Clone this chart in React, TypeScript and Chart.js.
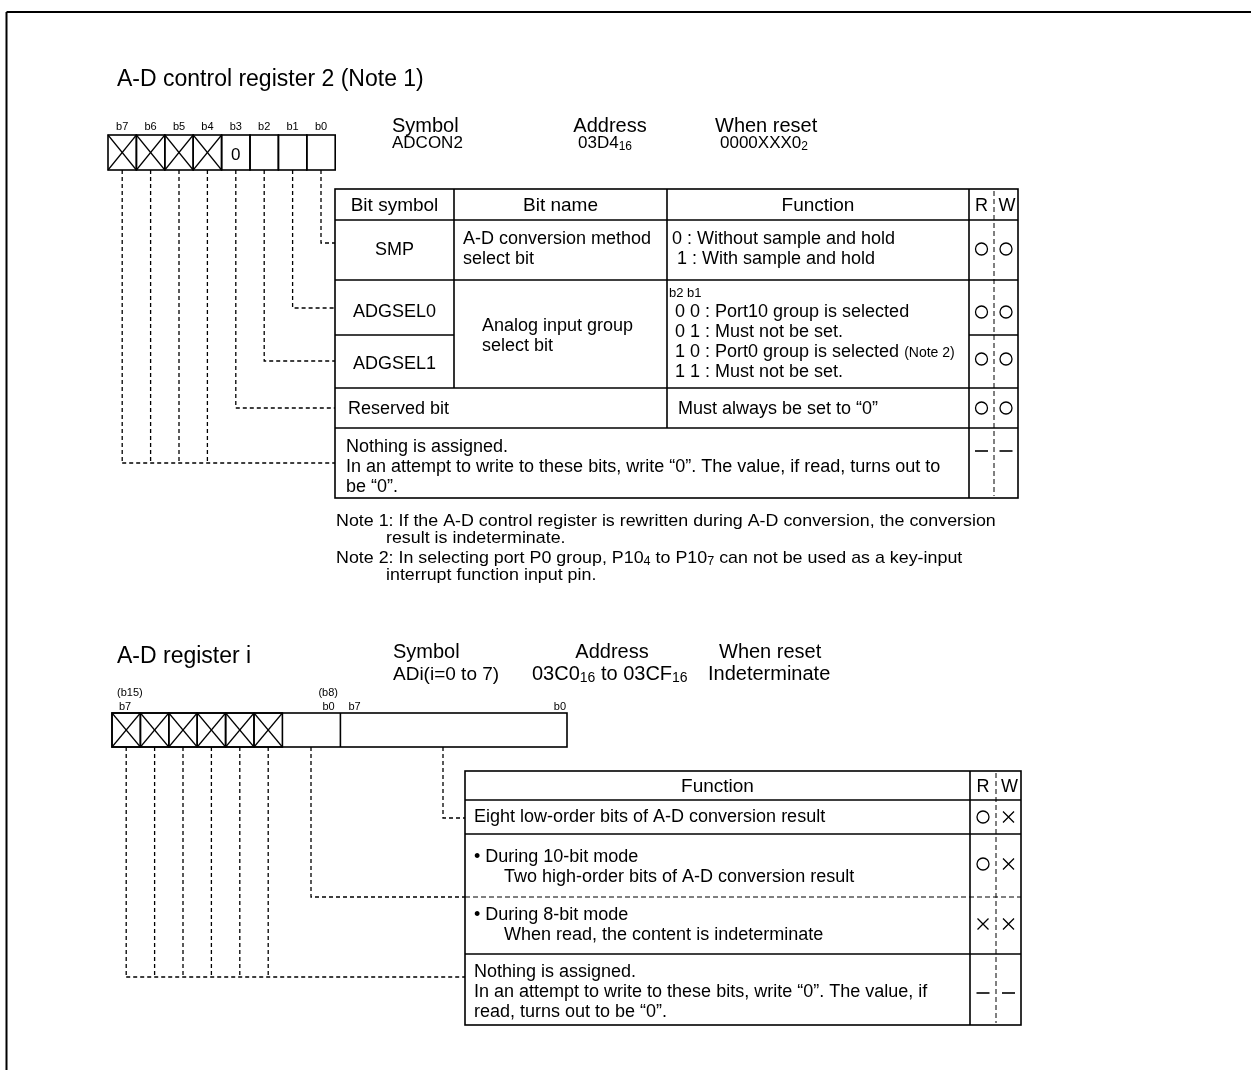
import React, { useEffect, useRef } from "react";
import { Chart, registerables } from "chart.js";

Chart.register(...registerables);

// ---------------- content (data) ----------------
const reg1Title = "A-D control register 2 (Note 1)";
const reg1BitLabels = ["b7", "b6", "b5", "b4", "b3", "b2", "b1", "b0"];
const reg1BitCells = ["x", "x", "x", "x", "0", "", "", ""];
const reg1InfoHeads = ["Symbol", "Address", "When reset"];
const reg1InfoValues = ["ADCON2", "03D4_{16}", "0000XXX0_{2}"];

const tbl1Head = ["Bit symbol", "Bit name", "Function", "R", "W"];
const tbl1Symbols = ["SMP", "ADGSEL0", "ADGSEL1"];
const tbl1NameSmp = ["A-D conversion method", "select bit"];
const tbl1NameSel = ["Analog input group", "select bit"];
const tbl1FuncSmp = ["0 : Without sample and hold", " 1 : With sample and hold"];
const tbl1FuncSelHead = "b2 b1";
const tbl1FuncSel = [
  " 0 0 : Port10 group is selected",
  " 0 1 : Must not be set.",
  " 1 0 : Port0 group is selected ~{(Note 2)}",
  " 1 1 : Must not be set.",
];
const tbl1Reserved = ["Reserved bit", "Must always be set to \u201C0\u201D"];
const tbl1Nothing = [
  "Nothing is assigned.",
  "In an attempt to write to these bits, write \u201C0\u201D. The value, if read, turns out to",
  "be \u201C0\u201D.",
];
const tbl1RW = [
  ["o", "o"],
  ["o", "o"],
  ["o", "o"],
  ["o", "o"],
  ["-", "-"],
];

const notesText = [
  "Note 1: If the A-D control register is rewritten during A-D conversion, the conversion",
  "result is indeterminate.",
  "Note 2: In selecting port P0 group, P10_{4} to P10_{7} can not be used as a key-input",
  "interrupt function input pin.",
];

const reg2Title = "A-D register i";
const reg2InfoHeads = ["Symbol", "Address", "When reset"];
const reg2InfoValues = ["ADi(i=0 to 7)", "03C0_{16} to 03CF_{16}", "Indeterminate"];
const reg2BitLabelsTop = ["(b15)", "(b8)"];
const reg2BitLabels = ["b7", "b0", "b7", "b0"];
const reg2Cells = ["x", "x", "x", "x", "x", "x"];

const tbl2Head = ["Function", "R", "W"];
const tbl2Rows = [
  ["Eight low-order bits of A-D conversion result"],
  ["\u2022 During 10-bit mode", "      Two high-order bits of A-D conversion result"],
  ["\u2022 During 8-bit mode", "      When read, the content is indeterminate"],
  [
    "Nothing is assigned.",
    "In an attempt to write to these bits, write \u201C0\u201D. The value, if",
    "read, turns out to be \u201C0\u201D.",
  ],
];
const tbl2RW = [
  ["o", "x"],
  ["o", "x"],
  ["x", "x"],
  ["-", "-"],
];

// ---------------- layout ----------------
const W = 1251;
const H = 1070;
const FONT = '"Liberation Sans", Arial, Helvetica, sans-serif';

const L = {
  frameX: 6.5,
  frameY: 12,
  title1: { x: 117, y: 78, size: 23 },
  box1: { x: 108, y: 135, cw: 28.4, h: 35, labelY: 126 },
  info1: { headY: 124.5, valY: 142, xs: [392, 610, 715], valXs: [392, 605, 720], aligns: ["left", "center", "left"], valAligns: ["left", "center", "left"] },
  t1: { cols: [335, 454, 667, 969, 994, 1018], rows: [189, 220, 280, 335, 388, 428, 498] },
  t1Leader: [243, 308, 361, 408, 463],
  notes: { x: [336, 386, 336, 386], y: [520, 537, 557, 574], size: 17, sx: 1.05 },
  title2: { x: 117, y: 655, size: 23 },
  info2: { headY: 651, valY: 673, xs: [393, 612, 719], valXs: [393, 532, 708], valSizes: [19, 20, 20], aligns: ["left", "center", "left"] },
  box2: { x: 112, y: 713, cw: 28.4, h: 34, right: 567, lowX: 340.4, topLabelY: 692, labelY: 706 },
  t2: { left: 465, rcol: 970, rw: 996, right: 1021, rows: [771, 800, 834, 897, 954, 1025] },
  t2LeaderX: { low: 443, hi: 311 },
  t2LeaderY: [818, 897, 977],
};

// ---------------- helpers ----------------
type Seg = { t: string; k: "n" | "sub" | "small" };
function parse(s: string): Seg[] {
  const out: Seg[] = [];
  const re = /(_\{([^}]*)\})|(~\{([^}]*)\})/g;
  let last = 0;
  let m: RegExpExecArray | null;
  while ((m = re.exec(s))) {
    if (m.index > last) out.push({ t: s.slice(last, m.index), k: "n" });
    if (m[1]) out.push({ t: m[2], k: "sub" });
    else out.push({ t: m[4], k: "small" });
    last = re.lastIndex;
  }
  if (last < s.length) out.push({ t: s.slice(last), k: "n" });
  return out;
}

function drawRich(
  ctx: CanvasRenderingContext2D,
  x: number,
  cy: number,
  s: string,
  size: number,
  align: string = "left",
  sx: number = 1
) {
  const parts = parse(s);
  const f = (k: string) => {
    const sz = k === "n" ? size : k === "sub" ? Math.round(size * 0.72) : Math.round(size * 0.78);
    return `${sz}px ${FONT}`;
  };
  let total = 0;
  for (const p of parts) {
    ctx.font = f(p.k);
    total += ctx.measureText(p.t).width;
  }
  let cx = align === "center" ? x - (total * sx) / 2 : align === "right" ? x - total * sx : x;
  const base = cy + size * 0.36;
  ctx.save();
  ctx.textAlign = "left";
  ctx.textBaseline = "alphabetic";
  ctx.fillStyle = "#000";
  for (const p of parts) {
    ctx.font = f(p.k);
    const w = ctx.measureText(p.t).width;
    ctx.save();
    ctx.translate(cx, base + (p.k === "sub" ? size * 0.1 : 0));
    ctx.scale(sx, 1);
    ctx.fillText(p.t, 0, 0);
    ctx.restore();
    cx += w * sx;
  }
  ctx.restore();
}

function makePlugin() {
  return {
    id: "registerDiagram",
    afterDraw(chart: any) {
      const ctx: CanvasRenderingContext2D = chart.ctx;
      const xs = chart.scales.x;
      const ys = chart.scales.y;
      const X = (v: number) => xs.getPixelForValue(v);
      const Y = (v: number) => ys.getPixelForValue(v);
      const line = (x1: number, y1: number, x2: number, y2: number, lw = 1.6, dash: number[] = []) => {
        ctx.save();
        ctx.strokeStyle = "#000";
        ctx.lineWidth = lw;
        ctx.setLineDash(dash);
        ctx.beginPath();
        ctx.moveTo(X(x1), Y(y1));
        ctx.lineTo(X(x2), Y(y2));
        ctx.stroke();
        ctx.restore();
      };
      const rect = (x1: number, y1: number, x2: number, y2: number, lw = 1.6) => {
        ctx.save();
        ctx.strokeStyle = "#000";
        ctx.lineWidth = lw;
        ctx.strokeRect(X(x1), Y(y1), X(x2) - X(x1), Y(y2) - Y(y1));
        ctx.restore();
      };
      const cross = (x1: number, y1: number, x2: number, y2: number) => {
        line(x1, y1, x2, y2, 1.2);
        line(x1, y2, x2, y1, 1.2);
      };
      const mark = (k: string, cx: number, cy: number) => {
        ctx.save();
        ctx.strokeStyle = "#000";
        ctx.lineWidth = 1.3;
        if (k === "o") {
          ctx.beginPath();
          ctx.arc(X(cx), Y(cy), 6, 0, Math.PI * 2);
          ctx.stroke();
        } else if (k === "x") {
          ctx.beginPath();
          ctx.moveTo(X(cx - 5.5), Y(cy - 5.5));
          ctx.lineTo(X(cx + 5.5), Y(cy + 5.5));
          ctx.moveTo(X(cx - 5.5), Y(cy + 5.5));
          ctx.lineTo(X(cx + 5.5), Y(cy - 5.5));
          ctx.stroke();
        } else {
          ctx.lineWidth = 1.6;
          ctx.beginPath();
          ctx.moveTo(X(cx - 6.5), Y(cy));
          ctx.lineTo(X(cx + 6.5), Y(cy));
          ctx.stroke();
        }
        ctx.restore();
      };
      const text = (x: number, y: number, s: string, size = 18, align = "left", sx = 1) =>
        drawRich(ctx, X(x), Y(y), s, size, align, sx);

      // frame
      line(L.frameX, L.frameY, W + 5, L.frameY, 2);
      line(L.frameX, L.frameY, L.frameX, H + 5, 2);

      // ===== register 1 =====
      text(L.title1.x, L.title1.y, reg1Title, L.title1.size);
      const b1 = L.box1;
      reg1BitLabels.forEach((lb, i) => text(b1.x + b1.cw * (i + 0.5), b1.labelY, lb, 11, "center"));
      reg1BitCells.forEach((c, i) => {
        const x1 = b1.x + b1.cw * i;
        const x2 = x1 + b1.cw;
        rect(x1, b1.y, x2, b1.y + b1.h, 1.6);
        if (c === "x") cross(x1, b1.y, x2, b1.y + b1.h);
        else if (c) text((x1 + x2) / 2, b1.y + b1.h / 2 + 1, c, 17, "center");
      });
      reg1InfoHeads.forEach((h, i) => text(L.info1.xs[i], L.info1.headY, h, 20, L.info1.aligns[i]));
      reg1InfoValues.forEach((v, i) => text(L.info1.valXs[i], L.info1.valY, v, 17, L.info1.valAligns[i]));

      // table 1
      const c = L.t1.cols;
      const r = L.t1.rows;
      rect(c[0], r[0], c[5], r[6]);
      line(c[0], r[1], c[5], r[1]);
      line(c[0], r[2], c[5], r[2]);
      line(c[0], r[3], c[1], r[3]);
      line(c[3], r[3], c[5], r[3]);
      line(c[0], r[4], c[5], r[4]);
      line(c[0], r[5], c[5], r[5]);
      line(c[1], r[0], c[1], r[4]);
      line(c[2], r[0], c[2], r[5]);
      line(c[3], r[0], c[3], r[6]);
      line(c[4], r[0] + 2, c[4], r[6] - 2, 1, [5, 3]);
      const hy = (r[0] + r[1]) / 2;
      text((c[0] + c[1]) / 2, hy, tbl1Head[0], 19, "center");
      text((c[1] + c[2]) / 2, hy, tbl1Head[1], 19, "center");
      text((c[2] + c[3]) / 2, hy, tbl1Head[2], 19, "center");
      text((c[3] + c[4]) / 2, hy, tbl1Head[3], 18, "center");
      text((c[4] + c[5]) / 2 + 1, hy, tbl1Head[4], 18, "center");
      text((c[0] + c[1]) / 2, 249, tbl1Symbols[0], 18, "center");
      tbl1NameSmp.forEach((s, i) => text(c[1] + 9, 238 + i * 20, s, 18));
      tbl1FuncSmp.forEach((s, i) => text(c[2] + 5, 238 + i * 20, s, 18));
      text((c[0] + c[1]) / 2, 311, tbl1Symbols[1], 18, "center");
      text((c[0] + c[1]) / 2, 363, tbl1Symbols[2], 18, "center");
      tbl1NameSel.forEach((s, i) => text(c[1] + 28, 325 + i * 20, s, 18));
      text(c[2] + 2, 292, tbl1FuncSelHead, 13);
      tbl1FuncSel.forEach((s, i) => text(c[2] + 3, 311 + i * 19.7, s, 18));
      text(c[0] + 13, 408, tbl1Reserved[0], 18);
      text(c[2] + 11, 408, tbl1Reserved[1], 18);
      tbl1Nothing.forEach((s, i) => text(c[0] + 11, 446 + i * 20, s, 18));
      const rwY1 = [249, 312, 359, 408, 451];
      tbl1RW.forEach((pair, i) => {
        mark(pair[0], (c[3] + c[4]) / 2, rwY1[i]);
        mark(pair[1], (c[4] + c[5]) / 2, rwY1[i]);
      });

      // notes
      notesText.forEach((s, i) => text(L.notes.x[i], L.notes.y[i], s, L.notes.size, "left", L.notes.sx));

      // ===== register 2 =====
      text(L.title2.x, L.title2.y, reg2Title, L.title2.size);
      reg2InfoHeads.forEach((h, i) => text(L.info2.xs[i], L.info2.headY, h, 20, L.info2.aligns[i]));
      reg2InfoValues.forEach((v, i) => text(L.info2.valXs[i], L.info2.valY, v, L.info2.valSizes[i], "left"));
      const b2 = L.box2;
      text(b2.x + 5, b2.topLabelY, reg2BitLabelsTop[0], 11);
      text(b2.lowX - 22, b2.topLabelY, reg2BitLabelsTop[1], 11);
      text(b2.x + 7, b2.labelY, reg2BitLabels[0], 11);
      text(b2.lowX - 18, b2.labelY, reg2BitLabels[1], 11);
      text(b2.lowX + 8, b2.labelY, reg2BitLabels[2], 11);
      text(b2.right - 1, b2.labelY, reg2BitLabels[3], 11, "right");
      rect(b2.x, b2.y, b2.right, b2.y + b2.h, 1.6);
      reg2Cells.forEach((cc, i) => {
        const x1 = b2.x + b2.cw * i;
        const x2 = x1 + b2.cw;
        rect(x1, b2.y, x2, b2.y + b2.h, 1.6);
        if (cc === "x") cross(x1, b2.y, x2, b2.y + b2.h);
      });
      line(b2.lowX, b2.y, b2.lowX, b2.y + b2.h, 1.6);

      // table 2
      const t = L.t2;
      const rr = t.rows;
      rect(t.left, rr[0], t.right, rr[5]);
      line(t.left, rr[1], t.right, rr[1]);
      line(t.left, rr[2], t.right, rr[2]);
      line(t.left, rr[3], t.right, rr[3], 1, [5, 3]);
      line(t.left, rr[4], t.right, rr[4]);
      line(t.rcol, rr[0], t.rcol, rr[5]);
      line(t.rw, rr[0] + 2, t.rw, rr[5] - 2, 1, [5, 3]);
      const h2 = (rr[0] + rr[1]) / 2;
      text((t.left + t.rcol) / 2, h2, tbl2Head[0], 19, "center");
      text((t.rcol + t.rw) / 2, h2, tbl2Head[1], 18, "center");
      text((t.rw + t.right) / 2 + 1, h2, tbl2Head[2], 18, "center");
      const rowTextY = [816, 856, 914, 971];
      tbl2Rows.forEach((lines, i) => lines.forEach((s, j) => text(t.left + 9, rowTextY[i] + j * 20, s, 18)));
      const rwY2 = [817, 864, 924, 993];
      tbl2RW.forEach((pair, i) => {
        mark(pair[0], (t.rcol + t.rw) / 2, rwY2[i]);
        mark(pair[1], (t.rw + t.right) / 2, rwY2[i]);
      });
    },
  };
}

function buildLeaders() {
  const ds: any[] = [];
  const mk = (pts: { x: number; y: number }[]) => ({
    data: pts,
    showLine: true,
    borderColor: "#000",
    borderWidth: 1.3,
    borderDash: [4, 3],
    pointRadius: 0,
    fill: false,
    tension: 0,
  });
  const b1 = L.box1;
  const top1 = b1.y + b1.h;
  const cx1 = (i: number) => b1.x + b1.cw * (i + 0.5);
  const tl = L.t1.cols[0];
  [7, 6, 5, 4].forEach((bit, k) => {
    const y = L.t1Leader[k];
    ds.push(mk([{ x: cx1(bit), y: top1 }, { x: cx1(bit), y }, { x: tl, y }]));
  });
  const yN = L.t1Leader[4];
  [0, 1, 2, 3].forEach((bit) => ds.push(mk([{ x: cx1(bit), y: top1 }, { x: cx1(bit), y: yN }])));
  ds.push(mk([{ x: cx1(0), y: yN }, { x: tl, y: yN }]));

  const b2 = L.box2;
  const top2 = b2.y + b2.h;
  const t2l = L.t2.left;
  const xl = L.t2LeaderX.low;
  const xh = L.t2LeaderX.hi;
  ds.push(mk([{ x: xl, y: top2 }, { x: xl, y: L.t2LeaderY[0] }, { x: t2l, y: L.t2LeaderY[0] }]));
  ds.push(mk([{ x: xh, y: top2 }, { x: xh, y: L.t2LeaderY[1] }, { x: t2l, y: L.t2LeaderY[1] }]));
  const cx2 = (i: number) => b2.x + b2.cw * (i + 0.5);
  const yB = L.t2LeaderY[2];
  reg2Cells.forEach((_, i) => ds.push(mk([{ x: cx2(i), y: top2 }, { x: cx2(i), y: yB }])));
  ds.push(mk([{ x: cx2(0), y: yB }, { x: t2l, y: yB }]));
  return ds;
}

export default function App() {
  const ref = useRef<HTMLCanvasElement | null>(null);
  useEffect(() => {
    if (!ref.current) return;
    const chart = new Chart(ref.current, {
      type: "scatter",
      data: { datasets: buildLeaders() },
      options: {
        animation: false,
        responsive: false,
        events: [],
        devicePixelRatio: 1,
        layout: { padding: 0 },
        plugins: { legend: { display: false }, tooltip: { enabled: false } },
        scales: {
          x: { type: "linear", min: 0, max: W, display: false },
          y: { type: "linear", min: 0, max: H, reverse: true, display: false },
        },
      },
      plugins: [makePlugin()],
    } as any);
    return () => chart.destroy();
  }, []);
  return (
    <div style={{ position: "absolute", left: 0, top: 0, width: W, height: H, background: "#fff" }}>
      <canvas ref={ref} width={W} height={H} style={{ display: "block", width: W, height: H }} />
    </div>
  );
}
